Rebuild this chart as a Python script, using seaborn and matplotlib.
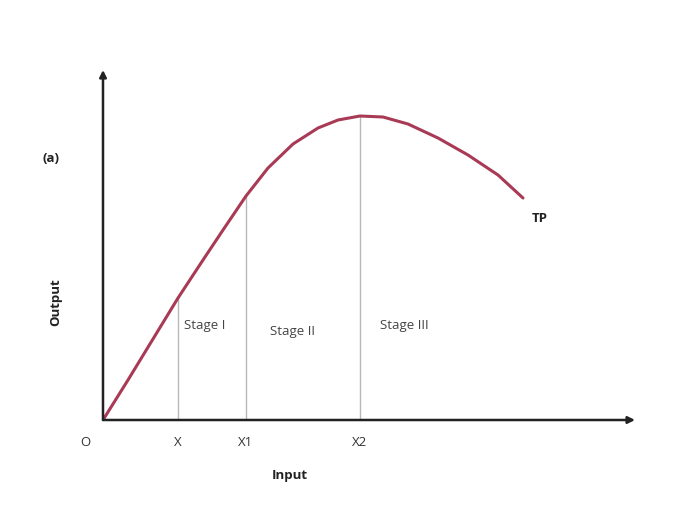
import pandas as pd
import matplotlib
matplotlib.use("Agg")
import matplotlib.pyplot as plt
import seaborn as sns

# 총생산(TP) 곡선 - 그림에서 읽은 값
input_vals = [0, 25, 50, 75, 100, 120, 143, 165, 190, 215, 235, 257, 280, 305, 335, 365, 395, 420]
output_vals = [0, 40, 81, 122, 160, 190, 224, 252, 276, 292, 300, 304, 303, 296, 282, 265, 245, 222]

# 단계 경계
stage_x = [75, 143, 257]
stage_top = [122, 224, 304]
stage_tick_labels = ["X", "X1", "X2"]
stage_names = ["Stage I", "Stage II", "Stage III"]
stage_label_pos = [(81, 95), (167, 89), (277, 95)]

df = pd.DataFrame({"Input": input_vals, "Output": output_vals})

sns.set_style("white")
plt.rcParams["font.family"] = ["Open Sans", "DejaVu Sans"]

fig = plt.figure(figsize=(6.91, 5.08), dpi=100)
ax = fig.add_axes([103 / 691, 88 / 508, 532 / 691, 350 / 508])

sns.lineplot(data=df, x="Input", y="Output", ax=ax, color="#a83a55", linewidth=2.2)

for sx, top in zip(stage_x, stage_top):
    ax.plot([sx, sx], [0, top], color="#b8b8b8", linewidth=1.0, zorder=1)

ax.set_xlim(0, 532)
ax.set_ylim(0, 350)
ax.set_xlabel("")
ax.set_ylabel("")
ax.set_xticks([])
ax.set_yticks([])
for s in ax.spines.values():
    s.set_visible(False)

# 화살표 축
arrow = dict(arrowstyle="-|>", color="#222222", lw=1.8, mutation_scale=10, shrinkA=0, shrinkB=0)
ax.annotate("", xy=(1.0, 0), xytext=(0, 0), xycoords="axes fraction", arrowprops=arrow, annotation_clip=False)
ax.annotate("", xy=(0, 1.0), xytext=(0, 0), xycoords="axes fraction", arrowprops=arrow, annotation_clip=False)

fs = 9.5
for sx, lab in zip(stage_x, stage_tick_labels):
    ax.text(sx, -23, lab, ha="center", va="center", fontsize=fs, color="#333333", clip_on=False)
ax.text(-18, -23, "O", ha="center", va="center", fontsize=fs, color="#333333", clip_on=False)

for name, (px, py) in zip(stage_names, stage_label_pos):
    ax.text(px, py, name, ha="left", va="center", fontsize=fs, color="#444444")

ax.text(187, -56, "Input", ha="center", va="center", fontsize=fs, fontweight="bold", color="#222222", clip_on=False)
ax.text(-47, 118, "Output", ha="center", va="center", fontsize=fs, rotation=90, fontweight="bold",
        color="#222222", clip_on=False)
ax.text(-52, 262, "(a)", ha="center", va="center", fontsize=fs, fontweight="bold", color="#222222", clip_on=False)
ax.text(429, 202, "TP", ha="left", va="center", fontsize=fs, fontweight="bold", color="#222222")

fig.savefig("out.png", dpi=100)
plt.close(fig)
